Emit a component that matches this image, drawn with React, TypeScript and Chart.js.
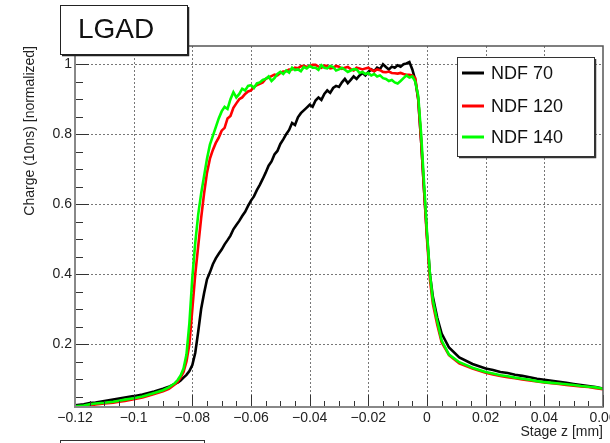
import React, { useEffect, useRef } from "react";
import { Chart, registerables } from "chart.js";

Chart.register(...registerables);

const Z_MM = [
  -0.12, -0.117, -0.115, -0.113, -0.11, -0.107, -0.105, -0.103, -0.1, -0.097,
  -0.095, -0.093, -0.09, -0.088, -0.087, -0.086, -0.085, -0.084, -0.083, -0.082,
  -0.081, -0.08, -0.079, -0.078, -0.077, -0.076, -0.075, -0.074, -0.073, -0.072,
  -0.071, -0.07, -0.069, -0.068, -0.067, -0.066, -0.065, -0.064, -0.063, -0.062,
  -0.061, -0.06, -0.059, -0.058, -0.057, -0.056, -0.055, -0.054, -0.053, -0.052,
  -0.051, -0.05, -0.049, -0.048, -0.047, -0.046, -0.045, -0.044, -0.043, -0.042,
  -0.041, -0.04, -0.039, -0.038, -0.037, -0.036, -0.035, -0.034, -0.033, -0.032,
  -0.031, -0.03, -0.029, -0.028, -0.027, -0.026, -0.025, -0.024, -0.023, -0.022,
  -0.021, -0.02, -0.019, -0.018, -0.017, -0.016, -0.015, -0.014, -0.013, -0.012,
  -0.011, -0.01, -0.009, -0.008, -0.007, -0.006, -0.005, -0.004, -0.003, -0.002,
  -0.001, 0, 0.001, 0.002, 0.0035, 0.005, 0.0075, 0.011, 0.0155, 0.02,
  0.0225, 0.025, 0.0275, 0.03, 0.0325, 0.035, 0.0375, 0.04, 0.0425, 0.045,
  0.0475, 0.05, 0.0525, 0.055, 0.0575, 0.06,
];

const NDF_70 = [
  0.025, 0.028, 0.031, 0.033, 0.037, 0.041, 0.044, 0.047, 0.051, 0.056,
  0.06, 0.064, 0.072, 0.078, 0.082, 0.086, 0.09, 0.096, 0.104, 0.112,
  0.123, 0.14, 0.175, 0.235, 0.3, 0.345, 0.385, 0.405, 0.428, 0.445,
  0.458, 0.47, 0.485, 0.497, 0.51, 0.528, 0.54, 0.552, 0.566, 0.578,
  0.595, 0.61, 0.622, 0.64, 0.655, 0.672, 0.69, 0.71, 0.722, 0.742,
  0.752, 0.772, 0.785, 0.8, 0.812, 0.832, 0.826, 0.848, 0.86, 0.868,
  0.876, 0.884, 0.878, 0.896, 0.905, 0.898, 0.915, 0.925, 0.918, 0.932,
  0.938, 0.935, 0.948, 0.958, 0.946, 0.955, 0.965, 0.958, 0.968, 0.975,
  0.968, 0.978, 0.985, 0.98, 0.99, 0.986, 1.0, 0.992, 0.985, 0.993,
  0.99, 0.997, 0.993, 1.0, 1.002, 1.006, 0.985, 0.955, 0.9, 0.78,
  0.64, 0.51, 0.4, 0.335, 0.275, 0.23, 0.19, 0.162, 0.143, 0.13,
  0.126, 0.12, 0.117, 0.112, 0.109, 0.105, 0.101, 0.098, 0.095, 0.092,
  0.089, 0.086, 0.083, 0.08, 0.077, 0.073,
];

const NDF_120 = [
  0.02, 0.022, 0.024, 0.027, 0.03, 0.032, 0.035, 0.037, 0.042, 0.047,
  0.052, 0.057, 0.065, 0.072, 0.078, 0.084, 0.092, 0.104, 0.12, 0.15,
  0.2, 0.3, 0.4, 0.48, 0.56, 0.63, 0.69, 0.73, 0.755, 0.775,
  0.79, 0.81, 0.818, 0.845, 0.852, 0.875, 0.888, 0.9, 0.905, 0.915,
  0.922, 0.925, 0.935, 0.94, 0.944, 0.948, 0.958, 0.962, 0.966, 0.97,
  0.968, 0.975, 0.979, 0.98, 0.985, 0.985, 0.99, 0.988, 0.994, 0.995,
  0.992, 0.995, 0.998, 0.998, 0.993, 0.99, 0.996, 0.995, 0.988, 0.99,
  0.995, 0.993, 0.987, 0.99, 0.992, 0.986, 0.982, 0.99, 0.988, 0.985,
  0.988, 0.99, 0.984, 0.98, 0.985, 0.983, 0.978, 0.977, 0.979, 0.975,
  0.974, 0.973, 0.975, 0.972, 0.97, 0.97, 0.968, 0.96, 0.9, 0.78,
  0.64, 0.5, 0.385, 0.315, 0.255, 0.205, 0.168, 0.145, 0.13, 0.118,
  0.113, 0.109, 0.105, 0.102, 0.099, 0.096, 0.093, 0.09, 0.088, 0.086,
  0.083, 0.081, 0.079, 0.077, 0.074, 0.071,
];

const NDF_140 = [
  0.022, 0.024, 0.028, 0.03, 0.032, 0.035, 0.038, 0.041, 0.045, 0.05,
  0.055, 0.06, 0.068, 0.076, 0.082, 0.088, 0.097, 0.11, 0.13, 0.17,
  0.26, 0.39, 0.49, 0.57, 0.63, 0.68, 0.73, 0.77, 0.795, 0.82,
  0.845, 0.865, 0.878, 0.872, 0.9, 0.92, 0.905, 0.915, 0.93, 0.925,
  0.938, 0.94, 0.932, 0.945, 0.948, 0.955, 0.958, 0.965, 0.952, 0.96,
  0.972, 0.978, 0.972, 0.982, 0.976, 0.99, 0.983, 0.985, 0.98, 0.992,
  0.988, 0.995, 0.99, 0.99, 0.984, 0.997, 0.99, 0.988, 0.995, 0.992,
  0.982, 0.985, 0.99, 0.984, 0.978, 0.982, 0.986, 0.985, 0.975, 0.978,
  0.972, 0.975, 0.968, 0.972, 0.965, 0.968, 0.96, 0.958, 0.952, 0.955,
  0.948, 0.945, 0.952, 0.96, 0.968, 0.962, 0.965, 0.95, 0.91, 0.8,
  0.66, 0.52, 0.4, 0.325, 0.265, 0.21, 0.17, 0.148, 0.132, 0.12,
  0.116, 0.111, 0.108, 0.104, 0.101, 0.098, 0.094, 0.091, 0.089, 0.087,
  0.085, 0.083, 0.08, 0.078, 0.076, 0.072,
];

const SERIES_LABELS = ["NDF 70", "NDF 120", "NDF 140"];
const SERIES_COLORS = ["#000000", "#ff0000", "#00ff00"];

const X_TICKS = [-0.12, -0.1, -0.08, -0.06, -0.04, -0.02, 0, 0.02, 0.04, 0.06];
const X_TICK_LABELS = ["\u22120.12", "\u22120.1", "\u22120.08", "\u22120.06", "\u22120.04", "\u22120.02", "0", "0.02", "0.04", "0.06"];
const X_MINOR_STEP = 0.005;
const Y_TICKS = [0.2, 0.4, 0.6, 0.8, 1];
const Y_TICK_LABELS = ["0.2", "0.4", "0.6", "0.8", "1"];
const Y_MINOR_STEP = 0.05;

const X_MIN = -0.12;
const X_MAX = 0.06;
const Y_MIN = 0.02;
const Y_MAX = 1.052;

const FONT = "'Liberation Sans', Arial, Helvetica, sans-serif";

const framePlugin = {
  id: "rootFrame",
  beforeDatasetsDraw(chart: any) {
    const { ctx, chartArea, scales } = chart;
    const { left, right, top, bottom } = chartArea;
    ctx.save();
    ctx.strokeStyle = "#777";
    ctx.lineWidth = 1;
    ctx.setLineDash([2, 2]);
    X_TICKS.forEach((v) => {
      const px = Math.round(scales.x.getPixelForValue(v)) + 0.5;
      if (px <= left + 1 || px >= right - 1) return;
      ctx.beginPath();
      ctx.moveTo(px, top);
      ctx.lineTo(px, bottom);
      ctx.stroke();
    });
    Y_TICKS.forEach((v) => {
      const py = Math.round(scales.y.getPixelForValue(v)) + 0.5;
      ctx.beginPath();
      ctx.moveTo(left, py);
      ctx.lineTo(right, py);
      ctx.stroke();
    });
    ctx.restore();
  },
  afterDatasetsDraw(chart: any) {
    const { ctx, chartArea, scales } = chart;
    const { left, right, top, bottom } = chartArea;
    ctx.save();
    ctx.strokeStyle = "#333";
    ctx.lineWidth = 1;
    const nx = Math.round((X_MAX - X_MIN) / X_MINOR_STEP);
    for (let i = 0; i <= nx; i++) {
      const v = X_MIN + i * X_MINOR_STEP;
      const major = i % 4 === 0;
      const px = Math.round(scales.x.getPixelForValue(v)) + 0.5;
      ctx.beginPath();
      ctx.moveTo(px, bottom);
      ctx.lineTo(px, bottom - (major ? 12 : 6));
      ctx.stroke();
    }
    for (let v = Y_MINOR_STEP; v <= Y_MAX; v += Y_MINOR_STEP) {
      const r = Math.round(v * 100) / 100;
      if (r < Y_MIN) continue;
      const major = Math.abs(r / 0.2 - Math.round(r / 0.2)) < 1e-6;
      const py = Math.round(scales.y.getPixelForValue(r)) + 0.5;
      ctx.beginPath();
      ctx.moveTo(left, py);
      ctx.lineTo(left + (major ? 14 : 8), py);
      ctx.stroke();
    }
    ctx.strokeStyle = "#555";
    ctx.lineWidth = 1.5;
    ctx.strokeRect(left, top, right - left, bottom - top);
    ctx.strokeStyle = "#888";
    ctx.lineWidth = 2;
    ctx.beginPath();
    ctx.moveTo(left, top);
    ctx.lineTo(left, bottom);
    ctx.lineTo(right, bottom);
    ctx.stroke();
    ctx.restore();
  },
  afterDraw(chart: any) {
    const { ctx } = chart;
    ctx.save();
    ctx.fillStyle = "#fff";
    ctx.fillRect(60, 5, 127, 49);
    ctx.strokeStyle = "#222";
    ctx.lineWidth = 1;
    ctx.strokeRect(60.5, 5.5, 127, 49);
    ctx.lineWidth = 1.5;
    ctx.beginPath();
    ctx.moveTo(188.5, 7);
    ctx.lineTo(188.5, 55.5);
    ctx.lineTo(62, 55.5);
    ctx.stroke();
    ctx.fillStyle = "#111";
    ctx.font = `28px ${FONT}`;
    ctx.textBaseline = "alphabetic";
    ctx.textAlign = "left";
    ctx.fillText("LGAD", 78, 38);

    ctx.fillStyle = "#fff";
    ctx.fillRect(457, 57, 137, 99);
    ctx.strokeStyle = "#333";
    ctx.lineWidth = 1;
    ctx.strokeRect(457.5, 57.5, 137, 99);
    ctx.lineWidth = 1.5;
    ctx.beginPath();
    ctx.moveTo(595.5, 59);
    ctx.lineTo(595.5, 157.5);
    ctx.lineTo(459, 157.5);
    ctx.stroke();
    const ys = [73, 106, 137];
    ctx.font = `18px ${FONT}`;
    ctx.textBaseline = "middle";
    chart.data.datasets.forEach((ds: any, i: number) => {
      ctx.strokeStyle = ds.borderColor;
      ctx.lineWidth = 3;
      ctx.beginPath();
      ctx.moveTo(462, ys[i]);
      ctx.lineTo(484, ys[i]);
      ctx.stroke();
      ctx.fillStyle = "#111";
      ctx.fillText(ds.label, 491, ys[i] + 1);
    });

    ctx.strokeStyle = "#333";
    ctx.lineWidth = 1;
    ctx.strokeRect(60.5, 440.5, 144, 20);
    ctx.restore();
  },
};

export default function App() {
  const ref = useRef<HTMLCanvasElement | null>(null);
  useEffect(() => {
    document.body.style.margin = "0";
    const canvas = ref.current;
    if (!canvas) return;
    const make = (vals: number[]) => Z_MM.map((x, i) => ({ x, y: vals[i] }));
    const all = [NDF_70, NDF_120, NDF_140];
    const chart = new Chart(canvas, {
      type: "line",
      data: {
        datasets: all.map((vals, i) => ({
          label: SERIES_LABELS[i],
          data: make(vals),
          borderColor: SERIES_COLORS[i],
          backgroundColor: SERIES_COLORS[i],
          borderWidth: 2.6,
          pointRadius: 0,
          tension: 0,
          fill: false,
          order: 2 - i,
        })),
      },
      options: {
        animation: false,
        responsive: false,
        maintainAspectRatio: false,
        layout: { padding: { top: 46, right: 7, left: 0, bottom: 0 } },
        plugins: { legend: { display: false }, tooltip: { enabled: false }, title: { display: false } },
        scales: {
          x: {
            type: "linear",
            min: X_MIN,
            max: X_MAX,
            afterBuildTicks: (s: any) => {
              s.ticks = X_TICKS.map((v) => ({ value: v }));
            },
            afterFit: (s: any) => {
              s.height = 36;
              s.paddingLeft = 0;
              s.paddingRight = 0;
            },
            grid: { display: false, drawTicks: false },
            border: { display: false },
            ticks: {
              padding: 3,
              autoSkip: false,
              maxRotation: 0,
              minRotation: 0,
              color: "#222",
              font: { family: FONT, size: 14 },
              callback: (_v: any, i: number) => X_TICK_LABELS[i],
            },
            title: {
              display: true,
              text: "Stage z [mm]",
              align: "end",
              color: "#222",
              font: { family: FONT, size: 14 },
              padding: { top: 0, bottom: 2 },
            },
          },
          y: {
            type: "linear",
            min: Y_MIN,
            max: Y_MAX,
            afterBuildTicks: (s: any) => {
              s.ticks = Y_TICKS.map((v) => ({ value: v }));
            },
            afterFit: (s: any) => {
              s.width = 75;
              s.paddingTop = 0;
              s.paddingBottom = 0;
            },
            grid: { display: false, drawTicks: false },
            border: { display: false },
            ticks: {
              padding: 3,
              color: "#222",
              font: { family: FONT, size: 14 },
              callback: (_v: any, i: number) => Y_TICK_LABELS[i],
            },
            title: {
              display: true,
              text: "Charge (10ns) [normalized]",
              align: "end",
              color: "#222",
              font: { family: FONT, size: 14 },
              padding: { top: 22, bottom: 0 },
            },
          },
        },
      },
      plugins: [framePlugin],
    } as any);
    return () => chart.destroy();
  }, []);
  return (
    <div style={{ width: 610, height: 443, background: "#fff" }}>
      <canvas ref={ref} width={610} height={443} style={{ display: "block" }} />
    </div>
  );
}
